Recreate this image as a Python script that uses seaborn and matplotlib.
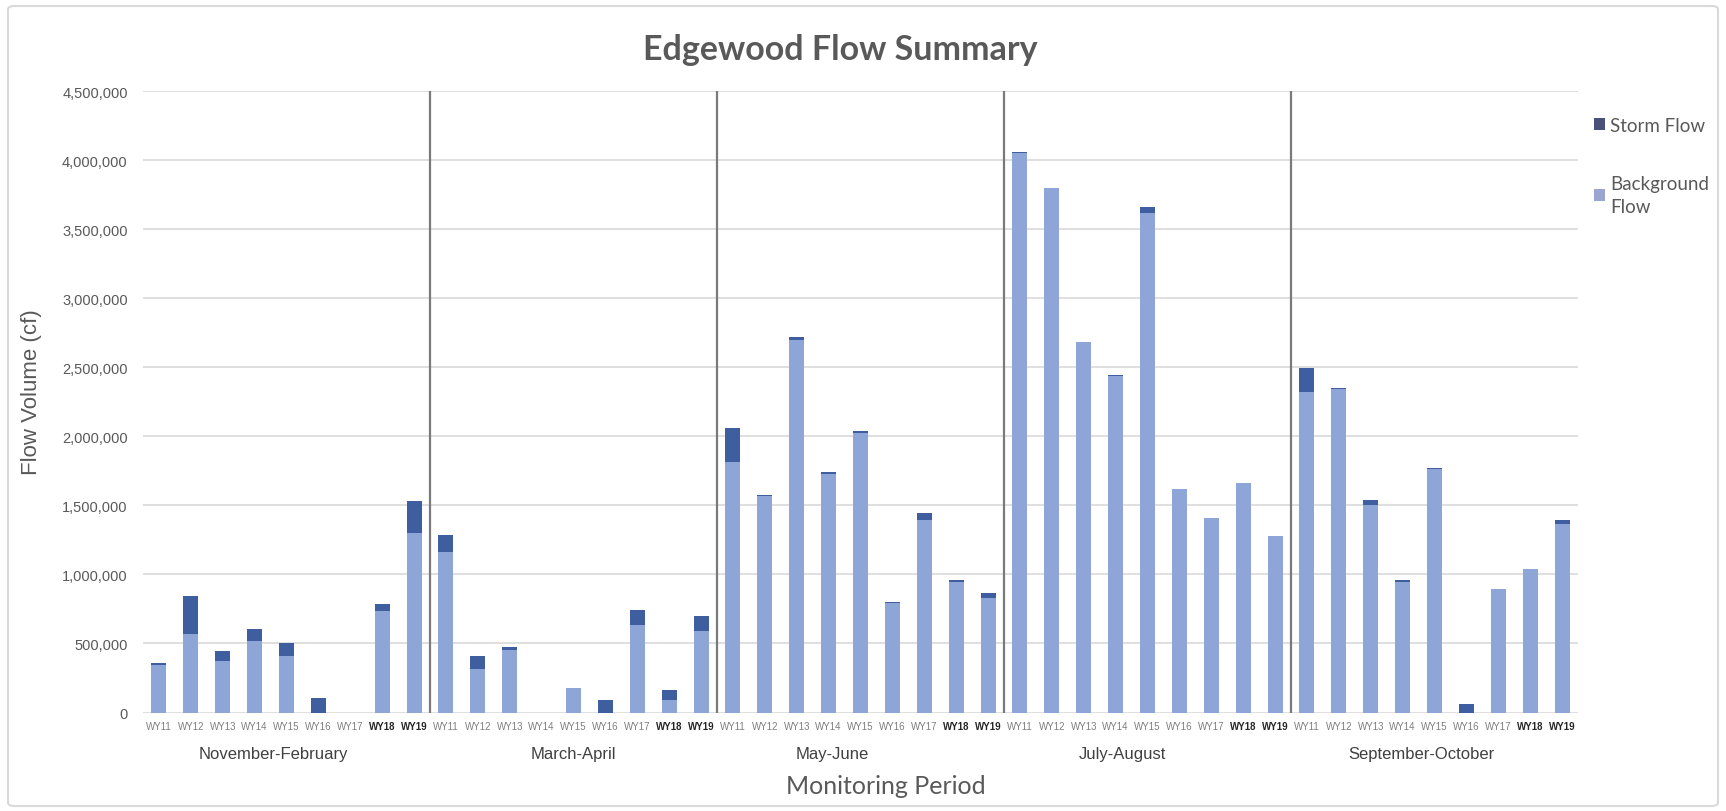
import numpy as np
import pandas as pd
import matplotlib
matplotlib.use("Agg")
import matplotlib.pyplot as plt
from matplotlib.patches import Patch, FancyBboxPatch
import seaborn as sns

# ---- data (cubic feet) ----
periods = ["November-February", "March-April", "May-June", "July-August", "September-October"]
years = ["WY11", "WY12", "WY13", "WY14", "WY15", "WY16", "WY17", "WY18", "WY19"]

background_nov_feb = [345000, 571000, 370000, 515000, 406000, 0, 0, 738000, 1301000]
storm_nov_feb = [10000, 276000, 78000, 90000, 95000, 102000, 0, 48000, 228000]

background_mar_apr = [1164000, 314000, 455000, 0, 181000, 0, 636000, 92000, 593000]
storm_mar_apr = [118000, 92000, 19000, 0, 0, 90000, 109000, 72000, 104000]

background_may_jun = [1815000, 1565000, 2700000, 1728000, 2022000, 795000, 1397000, 946000, 826000]
storm_may_jun = [246000, 8000, 22000, 14000, 14000, 7000, 49000, 14000, 42000]

background_jul_aug = [4050000, 3795000, 2680000, 2435000, 3620000, 1615000, 1407000, 1663000, 1279000]
storm_jul_aug = [8000, 5000, 0, 10000, 43000, 5000, 0, 0, 0]

background_sep_oct = [2317000, 2342000, 1503000, 946000, 1760000, 0, 892000, 1038000, 1363000]
storm_sep_oct = [180000, 10000, 38000, 10000, 10000, 62000, 0, 0, 32000]

yticks = [0, 500000, 1000000, 1500000, 2000000, 2500000, 3000000, 3500000, 4000000, 4500000]

background_all = [background_nov_feb, background_mar_apr, background_may_jun,
                  background_jul_aug, background_sep_oct]
storm_all = [storm_nov_feb, storm_mar_apr, storm_may_jun, storm_jul_aug, storm_sep_oct]

rows = []
for p, bg_list, st_list in zip(periods, background_all, storm_all):
    for y, bg, st in zip(years, bg_list, st_list):
        rows.append({"key": f"{p} {y}", "period": p, "year": y,
                     "background": bg, "storm": st, "total": bg + st})
df = pd.DataFrame(rows)
order = list(df["key"])

# ---- style ----
sns.set_theme(style="white")
plt.rcParams["font.family"] = ["Liberation Sans", "DejaVu Sans"]

W, H = 1726, 812
fig = plt.figure(figsize=(W / 100, H / 100), dpi=100)
fig.patch.set_facecolor("white")

left, right, top, bottom = 143, 1578, 92, 713.5
ax = fig.add_axes([left / W, 1 - bottom / H, (right - left) / W, (bottom - top) / H])

STORM = "#3F5E9F"
BACKGROUND = "#8EA5D8"
GRID = "#D9D9D9"
TEXT = "#595959"

# stacked bars: totals in storm colour, background drawn over them
sns.barplot(data=df, x="key", y="total", order=order, color=STORM,
            width=0.47, saturation=1, ax=ax, zorder=3, linewidth=0)
sns.barplot(data=df, x="key", y="background", order=order, color=BACKGROUND,
            width=0.47, saturation=1, ax=ax, zorder=4, linewidth=0)

ax.set_xlim(-0.5, len(order) - 0.5)
ax.set_ylim(0, 4500000)
ax.set_yticks(yticks)
ax.set_yticklabels([f"{v:,}" for v in yticks], fontsize=10.5, color=TEXT)
ax.yaxis.grid(True, color=GRID, linewidth=1.2, zorder=0)
ax.set_axisbelow(True)
for s in ax.spines.values():
    s.set_visible(False)
ax.tick_params(axis="y", length=0, pad=11)
ax.tick_params(axis="x", length=0, pad=6)

ax.set_xticks(range(len(order)))
ax.set_xticklabels(list(df["year"]), fontsize=7)
for lbl, yr in zip(ax.get_xticklabels(), df["year"]):
    if yr in ("WY18", "WY19"):
        lbl.set_fontweight("bold")
        lbl.set_color("#262626")
    else:
        lbl.set_color("#7F7F7F")

ax.set_xlabel("")
ax.set_ylabel("")

# period separators
n = len(years)
for i in range(1, len(periods)):
    ax.axvline(i * n - 0.5, ymin=0, ymax=1, color="#7A7A7A", linewidth=1.6, zorder=5)

# period labels beneath the year labels
period_shift = [-0.4, 0.0, -0.9, -0.8, -0.4]
for i, p in enumerate(periods):
    xc = i * n + (n - 1) / 2 + period_shift[i]
    ax.text(xc, -0.066, p, transform=ax.get_xaxis_transform(), ha="center", va="center",
            fontsize=12, color="#404040", family=["Liberation Sans Narrow", "Liberation Sans"])

# titles
fig.text(840 / W, 1 - 50 / H, "Edgewood Flow Summary", ha="center", va="center",
         fontsize=24.5, fontweight="bold", color=TEXT, family=["Lato", "DejaVu Sans"])
fig.text(886 / W, 1 - 787 / H, "Monitoring Period", ha="center", va="center",
         fontsize=18, color=TEXT, family=["Lato", "DejaVu Sans"])
fig.text(31 / W, 1 - 392 / H, "Flow Volume (cf)", ha="center", va="center",
         rotation=90, fontsize=16, color=TEXT, family=["Liberation Sans", "DejaVu Sans"])

# legend
handles = [Patch(facecolor="#4A5078", edgecolor="none", label="Storm Flow"),
           Patch(facecolor="#9AA6CF", edgecolor="none", label="Background\nFlow")]
leg = fig.legend(handles=handles, loc="upper left", bbox_to_anchor=(1586 / W, 1 - 110 / H),
                 frameon=False, fontsize=13.5, handlelength=0.6, handleheight=0.6,
                 handletextpad=0.3, labelspacing=2.2, borderaxespad=0)
for t in leg.get_texts():
    t.set_color(TEXT)
    t.set_family(["Lato", "DejaVu Sans"])
    t.set_linespacing(1.45)

# chart border
border = FancyBboxPatch((8 / W, 5 / H), (1710 / W), (800 / H),
                        boxstyle="round,pad=0,rounding_size=0.004",
                        transform=fig.transFigure, facecolor="none",
                        edgecolor="#D9D9D9", linewidth=1.5)
fig.patches.append(border)

fig.savefig("out.png", dpi=100, facecolor="white")
